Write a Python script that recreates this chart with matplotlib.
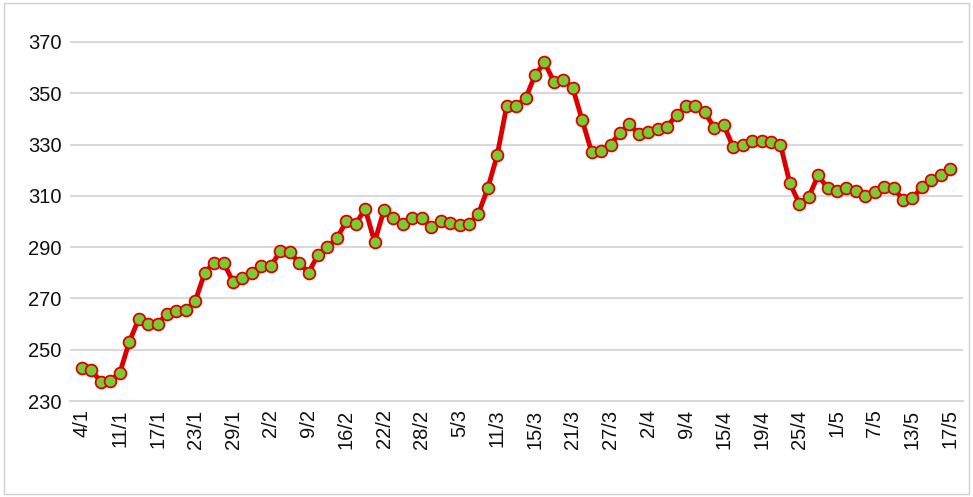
import matplotlib
matplotlib.use("Agg")
import matplotlib.pyplot as plt
import numpy as np

values = [243,242,237.5,238,241,253,262,260,260,264,
          265,265.5,269,280,284,284,276.5,278,280,282.5,
          282.5,288.5,288,284,280,287,290,293.5,300,299,
          305,292,304.5,301.5,299,301.5,301.5,298,300,299.5,
          298.5,299,303,313,326,345,345,348,357,362,
          354.5,355,352,339.5,327,327.5,330,334.5,338,334,
          335,336,337,341.5,345,345,342.5,336.5,337.5,329,
          330,331.5,331.5,331,330,315,307,309.5,318,313,
          312,313,312,310,311.5,313.5,313,308.5,309,313.5,
          316,318,320.5]
tick_labels = ["4/1","11/1","17/1","23/1","29/1","2/2","9/2","16/2","22/2","28/2",
               "5/3","11/3","15/3","21/3","27/3","2/4","9/4","15/4","19/4","25/4",
               "1/5","7/5","13/5","17/5"]

fig = plt.figure(figsize=(9.73,4.97), dpi=100)
ax = fig.add_axes([0.072, 0.193, 0.918, 0.764])
x = np.arange(len(values))
ax.plot(x, values, color="#dd0000", lw=3.5, marker="o", ms=8.5,
        markerfacecolor="#77cc33", markeredgecolor="#dd0000", markeredgewidth=1.3, zorder=3)
ax.set_ylim(230, 378)
ax.set_yticks(range(230, 371, 20))
ax.set_xlim(-1.27, 93.38)
ax.set_xticks(x[::4])
ax.set_xticklabels(tick_labels, rotation=90, fontsize=14.5, family="Liberation Sans")
for t in ax.get_yticklabels():
    t.set_fontsize(14.5); t.set_family("Liberation Sans")
ax.grid(axis="y", color="#d9d9d9", lw=1.5)
ax.set_axisbelow(True)
for s in ["top","right","left"]:
    ax.spines[s].set_visible(False)
ax.spines["bottom"].set_color("#d9d9d9")
ax.spines["bottom"].set_linewidth(1.5)
ax.tick_params(length=0, pad=6, colors="#111111")
fig.patches.append(plt.Rectangle((0.004,0.006),0.992,0.988, transform=fig.transFigure,
                                 fill=False, edgecolor="#d0d0d0", lw=1))
fig.savefig("out.png", dpi=100)
